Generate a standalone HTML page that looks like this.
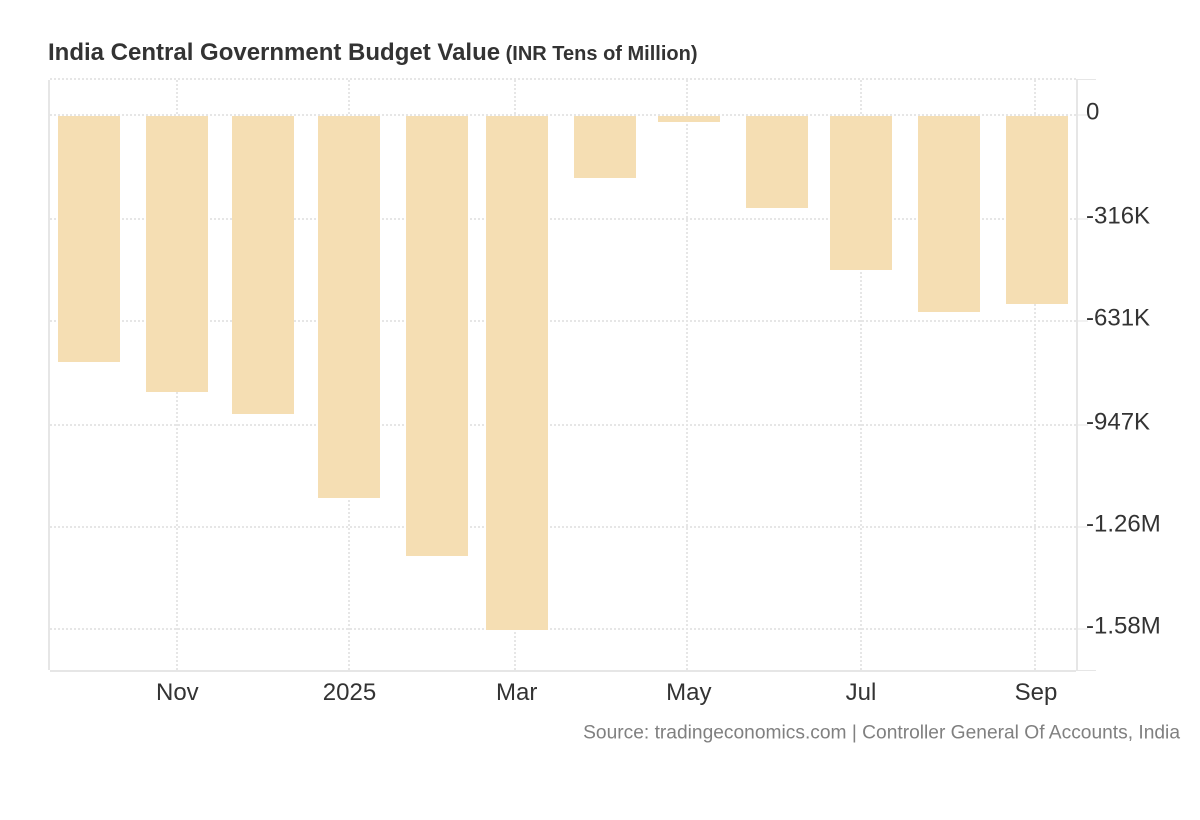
<!DOCTYPE html>
<html lang="en">
<head>
<meta charset="utf-8">
<title>India Central Government Budget Value</title>
<style>
  html, body { margin: 0; padding: 0; background: #ffffff; }
  body { width: 1200px; height: 820px; overflow: hidden; font-family: "Liberation Sans", sans-serif; }
  svg { display: block; }
  text { font-family: "Liberation Sans", sans-serif; white-space: pre; }
</style>
</head>
<body>
<svg id="chart" width="1200" height="820" viewBox="0 0 1200 820" xmlns="http://www.w3.org/2000/svg">
  <text x="48" y="60" font-size="24" font-weight="700" fill="#333333">India Central Government Budget Value<tspan font-size="20"> (INR Tens of Million)</tspan></text>
  <text x="1180" y="738.5" font-size="19.2" fill="#808080" text-anchor="end">Source: tradingeconomics.com | Controller General Of Accounts, India</text>
</svg>
<script>
// Data (values in INR tens of million, thousands)
const barDates = ["2024-10-01T00:00Z", "2024-11-01T00:00Z", "2024-12-01T12:00Z", "2025-01-01T00:00Z", "2025-02-01T06:00Z", "2025-03-01T12:00Z", "2025-04-01T18:00Z", "2025-05-01T12:00Z", "2025-06-01T18:00Z", "2025-07-01T12:00Z", "2025-08-01T18:00Z", "2025-09-02T00:00Z"];
const barValues = [-758.6, -850.7, -918.2, -1176.2, -1354.3, -1581.6, -193.5, -21.5, -285.6, -476.0, -605.0, -580.4];
const yTickValues = [0, -315.7, -631.4, -947.1, -1262.8, -1578.5];
const yTickLabels = ["0", "-316K", "-631K", "-947K", "-1.26M", "-1.58M"];
const xTickDates = ["2024-11-01T00:00Z", "2025-01-01T00:00Z", "2025-03-01T00:00Z", "2025-05-01T00:00Z", "2025-07-01T12:00Z", "2025-09-01T00:00Z"];
const xLabelDates = ["2024-11-01T06:00Z", "2025-01-01T06:00Z", "2025-03-01T12:00Z", "2025-05-01T12:00Z", "2025-07-01T12:00Z", "2025-09-01T12:00Z"];
const xTickLabels = ["Nov", "2025", "Mar", "May", "Jul", "Sep"];

const svg = document.getElementById('chart');
const NS = 'http://www.w3.org/2000/svg';
const GRID = '#e6e6e6';
const plot = { left: 50, right: 1076, top: 79, bottom: 670 };
const barWidth = 62;

// Axis functions
const MS_PER_DAY = 86400000;
const xOrigin = Date.parse("2024-11-01T00:00Z");
function xScale(dateStr) {
  return 176.65 + 2.822 * (Date.parse(dateStr) - xOrigin) / MS_PER_DAY;
}
function yScale(v) {
  return 115 - v * (514 / 1578.5);
}
function snapOdd(v) {
  return 2 * Math.ceil((v - 0.01 - 1) / 2) + 1;
}

function make(tag, attrs, parent) {
  const el = document.createElementNS(NS, tag);
  Object.keys(attrs).forEach(function (k) { el.setAttribute(k, attrs[k]); });
  (parent || svg).appendChild(el);
  return el;
}

const gridGroup = make('g', {});



// top dotted border of the plot
const topGrid = make('line', { x1: plot.left, x2: plot.right, y1: plot.top, y2: plot.top, stroke: GRID, 'stroke-width': 2, 'stroke-dasharray': '2 2' }, gridGroup);



// vertical gridlines
xTickDates.forEach(function (d) {
  const x = Math.round(xScale(d));
  const line = make('line', { x1: x, x2: x, y1: 80, y2: plot.bottom, stroke: GRID, 'stroke-width': 2, 'stroke-dasharray': '2 2' }, gridGroup);
  
  
});

// horizontal gridlines
yTickValues.forEach(function (v) {
  const y = snapOdd(yScale(v));
  const line = make('line', { x1: plot.left, x2: plot.right, y1: y, y2: y, stroke: GRID, 'stroke-width': 2, 'stroke-dasharray': '2 2' }, gridGroup);
  
  
});

// bars
const barGroup = make('g', {});


barValues.forEach(function (v, i) {
  const left = Math.round(xScale(barDates[i]) - barWidth / 2);
  const top = yScale(0) + 1;
  const bottom = Math.round(yScale(v));
  const bar = make('rect', { x: left, y: top, width: barWidth, height: Math.max(0, bottom - top), fill: '#f5deb3' }, barGroup);
  
  
});

// axis lines
const leftAxis = make('rect', { x: 48, y: 80, width: 2, height: 590, fill: GRID });



const bottomAxis = make('rect', { x: 50, y: 670, width: 1026, height: 2, fill: GRID });



const rightAxis = make('rect', { x: 1076, y: 79, width: 2, height: 592, fill: GRID });



const topCap = make('rect', { x: 1078, y: 79, width: 18, height: 1, fill: GRID });



const bottomCap = make('rect', { x: 1078, y: 670, width: 18, height: 1, fill: GRID });



// y ticks and labels
yTickValues.forEach(function (v, i) {
  const y = snapOdd(yScale(v));
  const tick = make('rect', { x: 1078, y: y - 0.5, width: 10, height: 1, fill: GRID });
  
  
  const label = make('text', { x: 1086, y: y + 4.5, 'font-size': 24, fill: '#333333' });
  
  
  label.textContent = yTickLabels[i];
});

// x labels
xLabelDates.forEach(function (d, i) {
  const label = make('text', { x: xScale(d), y: 700, 'font-size': 24, fill: '#333333', 'text-anchor': 'middle' });
  
  
  label.textContent = xTickLabels[i];
});
</script>
</body>
</html>
